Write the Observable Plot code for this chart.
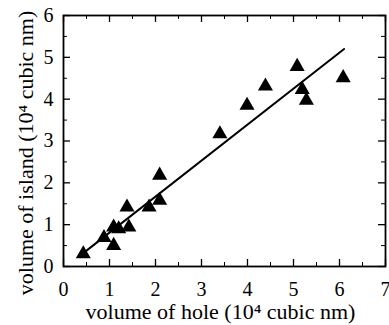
<!DOCTYPE html>
<html><head><meta charset="utf-8">
<script src="https://cdn.jsdelivr.net/npm/d3@7"></script>
<script src="https://cdn.jsdelivr.net/npm/@observablehq/plot@0.6"></script>
<style>body{margin:0;background:#fff}</style>
</head><body><div id="chart"></div>
<script>
const holeVolume = [0.43, 0.88, 1.09, 1.09, 1.20, 1.42, 1.38, 1.86, 2.09, 2.09, 3.40, 3.99, 4.39, 5.08, 5.19, 5.28, 6.08];
const islandVolume = [0.30, 0.69, 0.50, 0.94, 0.90, 0.94, 1.42, 1.42, 1.58, 2.18, 3.17, 3.85, 4.31, 4.78, 4.23, 3.97, 4.51];
const fitX = [0.5, 6.1];
const fitY = [0.38, 5.2];
const xTicks = [0, 1, 2, 3, 4, 5, 6, 7];
const yTicks = [0, 1, 2, 3, 4, 5, 6];
const xMinor = [0.5, 1.5, 2.5, 3.5, 4.5, 5.5, 6.5];
const yMinor = [0.5, 1.5, 2.5, 3.5, 4.5, 5.5];
const xLabel = "volume of hole (10\u2074 cubic nm)";
const yLabel = "volume of island (10\u2074 cubic nm)";

const points = holeVolume.map((x, i) => ({x, y: islandVolume[i]}));
const fit = fitX.map((x, i) => ({x, y: fitY[i]}));

const font = "Liberation Serif, Times New Roman, serif";
const W = 389, H = 325, mL = 63, mR = 4, mT = 15, mB = 59;
const iW = W - mL - mR, iH = H - mT - mB;
const M = 7, m = 4;
const tx = (data, len, sw) => [
  Plot.tickX(data, {x: d => d, insetTop: iH - len, stroke: "#000", strokeWidth: sw}),
  Plot.tickX(data, {x: d => d, insetBottom: iH - len, stroke: "#000", strokeWidth: sw})
];
const ty = (data, len, sw) => [
  Plot.tickY(data, {y: d => d, insetRight: iW - len, stroke: "#000", strokeWidth: sw}),
  Plot.tickY(data, {y: d => d, insetLeft: iW - len, stroke: "#000", strokeWidth: sw})
];
const chart = Plot.plot({
  width: W, height: H,
  marginLeft: mL, marginRight: mR, marginTop: mT, marginBottom: mB,
  style: {fontFamily: font, fontSize: "20px", color: "#000", background: "#fff", overflow: "visible"},
  x: {domain: [0, 7]},
  y: {domain: [0, 6]},
  marks: [
    Plot.axisX(xTicks, {anchor: "bottom", tickSize: 0, tickPadding: 15, fontSize: 20, label: null}),
    Plot.axisY(yTicks, {anchor: "left", tickSize: 0, tickPadding: 10, fontSize: 20, label: null}),
    ...tx(xTicks, M, 1.3),
    ...tx(xMinor, m, 1),
    ...ty(yTicks, M, 1.3),
    ...ty(yMinor, m, 1),
    Plot.frame({stroke: "#000", strokeWidth: 1.8}),
    Plot.line(fit, {x: "x", y: "y", stroke: "#000", strokeWidth: 2}),
    Plot.dot(points, {x: "x", y: "y", symbol: "triangle", r: 5.6, fill: "#000", stroke: "none"}),
    Plot.text([xLabel], {frameAnchor: "bottom", textAnchor: "middle", lineAnchor: "bottom", dy: 52, dx: -4, text: d => d, fontSize: 22, fill: "#000"}),
    Plot.text([yLabel], {frameAnchor: "left", textAnchor: "middle", lineAnchor: "middle", dx: -38, dy: 12, rotate: -90, text: d => d, fontSize: 22, fill: "#000"})
  ]
});
document.getElementById("chart").appendChild(chart);
</script>
</body></html>
